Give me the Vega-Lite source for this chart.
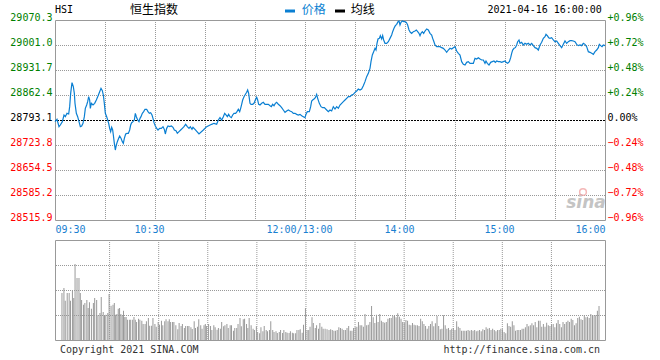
{
"$schema": "https://vega.github.io/schema/vega-lite/v6.json",
"background": "white",
"padding": {"left": 9, "top": 3, "right": 5, "bottom": 4},
"autosize": {"type": "pad"},
"bounds": "flush",
"spacing": 20,
"config": {"view": {"stroke": "#999999", "strokeWidth": 1}, "font": "DejaVu Sans Mono", "axis": {"labelFont": "DejaVu Sans Mono", "labelFontSize": 10, "grid": false}},
"datasets": {
"xgrid": [{"t":30},{"t":60},{"t":90},{"t":120},{"t":150},{"t":180},{"t":210},{"t":240},{"t":270},{"t":300}],
"pgrid": [{"v":28585.2},{"v":28654.5},{"v":28723.8},{"v":28862.4},{"v":28931.7},{"v":29001.0}],
"pzero": [{"v":28793.1}],
"vgrid": [{"h":25},{"h":50},{"h":75}],
"price": [
{"t":0,"v":28788.5},{"t":1.2,"v":28794.9},{"t":2.4,"v":28774.6},{"t":3.2,"v":28779.2},{"t":4.4,"v":28788.5},{"t":5.4,"v":28807.0},{"t":6.2,"v":28802.3},{"t":7.2,"v":28811.6},{"t":8.2,"v":28809.7},{"t":8.8,"v":28830.1},{"t":9.4,"v":28867.0},{"t":10.2,"v":28896.6},{"t":11.0,"v":28885.5},{"t":11.6,"v":28867.0},{"t":12.0,"v":28839.3},{"t":12.8,"v":28811.6},{"t":13.6,"v":28802.3},{"t":14.4,"v":28788.5},{"t":15.2,"v":28774.6},{"t":16.0,"v":28776.5},{"t":16.8,"v":28783.9},{"t":17.6,"v":28802.3},{"t":18.2,"v":28825.4},{"t":19.0,"v":28834.7},{"t":19.6,"v":28843.9},{"t":20.2,"v":28857.8},{"t":20.8,"v":28848.5},{"t":21.2,"v":28825.4},{"t":21.8,"v":28839.3},{"t":22.8,"v":28834.7},{"t":23.8,"v":28839.3},{"t":24.8,"v":28848.5},{"t":25.8,"v":28859.6},{"t":26.8,"v":28871.6},{"t":27.6,"v":28880.9},{"t":28.4,"v":28874.4},{"t":29.0,"v":28862.4},{"t":29.6,"v":28839.3},{"t":30.2,"v":28811.6},{"t":31.0,"v":28802.3},{"t":31.6,"v":28793.1},{"t":32.2,"v":28783.9},{"t":32.8,"v":28770.0},{"t":33.4,"v":28760.8},{"t":34.0,"v":28772.8},{"t":34.6,"v":28765.4},{"t":35.0,"v":28751.5},{"t":35.6,"v":28728.4},{"t":36.2,"v":28709.9},{"t":36.8,"v":28723.8},{"t":37.4,"v":28733.0},{"t":38.2,"v":28742.3},{"t":38.8,"v":28748.8},{"t":39.6,"v":28742.3},{"t":40.4,"v":28733.0},{"t":41.0,"v":28728.4},{"t":41.6,"v":28742.3},{"t":42.4,"v":28754.3},{"t":43.2,"v":28756.1},{"t":44.0,"v":28756.1},{"t":44.8,"v":28765.4},{"t":45.4,"v":28779.2},{"t":46.0,"v":28785.7},{"t":46.8,"v":28788.5},{"t":47.6,"v":28793.1},{"t":48.2,"v":28811.6},{"t":48.8,"v":28802.3},{"t":49.6,"v":28793.1},{"t":50.4,"v":28788.5},{"t":51.0,"v":28797.7},{"t":51.6,"v":28802.3},{"t":52.4,"v":28811.6},{"t":53.2,"v":28816.2},{"t":54.0,"v":28822.7},{"t":55.0,"v":28822.7},{"t":55.8,"v":28816.2},{"t":56.6,"v":28811.6},{"t":57.4,"v":28813.4},{"t":58.2,"v":28807.0},{"t":58.8,"v":28797.7},{"t":59.4,"v":28785.7},{"t":60.2,"v":28776.5},{"t":61.0,"v":28770.0},{"t":61.8,"v":28765.4},{"t":62.8,"v":28770.0},{"t":63.8,"v":28770.0},{"t":64.8,"v":28774.6},{"t":65.6,"v":28767.2},{"t":66.2,"v":28754.3},{"t":67.0,"v":28770.0},{"t":67.8,"v":28776.5},{"t":68.8,"v":28774.6},{"t":69.8,"v":28776.5},{"t":70.8,"v":28772.8},{"t":71.6,"v":28765.4},{"t":72.6,"v":28763.5},{"t":73.4,"v":28756.1},{"t":74.4,"v":28760.8},{"t":75.4,"v":28765.4},{"t":76.4,"v":28770.0},{"t":77.4,"v":28774.6},{"t":78.4,"v":28781.1},{"t":79.4,"v":28774.6},{"t":80.4,"v":28770.0},{"t":81.2,"v":28774.6},{"t":82.2,"v":28767.2},{"t":82.8,"v":28772.8},{"t":84.0,"v":28767.3},{"t":86.4,"v":28754.3},{"t":89.0,"v":28765.4},{"t":91.0,"v":28774.6},{"t":94.0,"v":28781.1},{"t":95.4,"v":28783.9},{"t":97.0,"v":28781.1},{"t":98.0,"v":28793.1},{"t":99.0,"v":28799.6},{"t":100.0,"v":28793.1},{"t":101.0,"v":28802.3},{"t":101.8,"v":28811.6},{"t":102.6,"v":28807.0},{"t":103.4,"v":28802.3},{"t":104.2,"v":28808.8},{"t":105.0,"v":28802.3},{"t":105.8,"v":28799.6},{"t":106.6,"v":28807.0},{"t":107.4,"v":28811.6},{"t":108.4,"v":28811.6},{"t":109.2,"v":28816.2},{"t":110.0,"v":28822.7},{"t":110.8,"v":28816.2},{"t":111.4,"v":28825.4},{"t":112.0,"v":28836.5},{"t":112.6,"v":28848.5},{"t":113.4,"v":28857.8},{"t":114.0,"v":28862.4},{"t":115.0,"v":28869.8},{"t":115.6,"v":28876.3},{"t":116.2,"v":28867.0},{"t":116.6,"v":28853.2},{"t":117.0,"v":28839.3},{"t":117.6,"v":28836.5},{"t":118.6,"v":28836.5},{"t":119.4,"v":28839.3},{"t":120.2,"v":28848.5},{"t":121.0,"v":28855.9},{"t":121.6,"v":28848.5},{"t":122.2,"v":28836.5},{"t":123.0,"v":28834.7},{"t":124.0,"v":28839.3},{"t":125.0,"v":28842.1},{"t":126.0,"v":28836.5},{"t":127.0,"v":28836.5},{"t":128.0,"v":28836.5},{"t":129.0,"v":28832.8},{"t":129.8,"v":28830.1},{"t":130.6,"v":28836.5},{"t":131.4,"v":28832.8},{"t":132.2,"v":28839.3},{"t":133.0,"v":28842.1},{"t":134.0,"v":28836.5},{"t":135.0,"v":28832.8},{"t":136.0,"v":28827.3},{"t":137.0,"v":28820.8},{"t":138.0,"v":28814.4},{"t":139.0,"v":28818.1},{"t":140.0,"v":28820.8},{"t":141.0,"v":28818.1},{"t":142.0,"v":28816.2},{"t":143.0,"v":28811.6},{"t":144.0,"v":28811.6},{"t":145.0,"v":28808.8},{"t":146.0,"v":28807.0},{"t":147.0,"v":28808.8},{"t":148.0,"v":28805.1},{"t":149.0,"v":28802.3},{"t":150.0,"v":28799.6},{"t":150.6,"v":28808.8},{"t":151.4,"v":28816.2},{"t":152.6,"v":28816.2},{"t":153.4,"v":28830.1},{"t":154.0,"v":28845.8},{"t":154.6,"v":28848.5},{"t":155.4,"v":28851.3},{"t":156.2,"v":28855.0},{"t":157.0,"v":28864.2},{"t":157.6,"v":28853.2},{"t":158.6,"v":28839.3},{"t":159.6,"v":28830.1},{"t":160.6,"v":28827.3},{"t":161.6,"v":28827.3},{"t":163,"v":28820.8},{"t":164,"v":28816.2},{"t":165,"v":28820.8},{"t":166,"v":28818.1},{"t":167,"v":28830.1},{"t":168,"v":28823.6},{"t":169,"v":28830.1},{"t":170,"v":28825.4},{"t":171,"v":28834.7},{"t":172,"v":28839.3},{"t":173,"v":28843.9},{"t":174,"v":28848.5},{"t":175,"v":28853.2},{"t":176,"v":28857.8},{"t":177,"v":28857.8},{"t":178,"v":28862.4},{"t":179,"v":28864.3},{"t":180,"v":28869.8},{"t":181,"v":28873.5},{"t":182,"v":28879.0},{"t":183,"v":28876.3},{"t":184,"v":28879.0},{"t":185,"v":28888.3},{"t":186,"v":28899.4},{"t":187,"v":28913.2},{"t":188,"v":28922.5},{"t":189,"v":28936.3},{"t":189.6,"v":28954.8},{"t":190.4,"v":28973.3},{"t":191.2,"v":28982.5},{"t":192,"v":28991.8},{"t":192.6,"v":28987.1},{"t":193.2,"v":29005.6},{"t":193.8,"v":29017.6},{"t":194.6,"v":29019.4},{"t":195.2,"v":29026.9},{"t":196,"v":29017.6},{"t":196.6,"v":29026.9},{"t":197.2,"v":29014.9},{"t":198,"v":29005.6},{"t":199,"v":29005.6},{"t":200,"v":29010.2},{"t":201,"v":29019.4},{"t":202,"v":29028.7},{"t":202.6,"v":29037.9},{"t":203.4,"v":29047.2},{"t":204.2,"v":29054.6},{"t":205,"v":29058.3},{"t":205.8,"v":29065.7},{"t":206.4,"v":29067.5},{"t":207,"v":29056.4},{"t":207.6,"v":29063.8},{"t":208.4,"v":29067.5},{"t":209.2,"v":29065.7},{"t":210,"v":29065.7},{"t":210.8,"v":29063.8},{"t":211.6,"v":29056.4},{"t":212.4,"v":29042.6},{"t":213.2,"v":29036.1},{"t":214,"v":29033.3},{"t":215,"v":29038.0},{"t":216,"v":29039.8},{"t":216.8,"v":29042.6},{"t":217.6,"v":29038.0},{"t":218.4,"v":29033.3},{"t":219,"v":29026.9},{"t":219.6,"v":29033.3},{"t":220.4,"v":29038.0},{"t":221.2,"v":29033.3},{"t":222,"v":29039.8},{"t":223,"v":29045.4},{"t":224,"v":29042.6},{"t":225,"v":29033.3},{"t":226,"v":29028.7},{"t":226.6,"v":29019.4},{"t":227.2,"v":29012.1},{"t":228,"v":29001.0},{"t":229,"v":28996.4},{"t":230,"v":28996.4},{"t":231,"v":28996.4},{"t":232,"v":28993.6},{"t":233,"v":28991.8},{"t":234,"v":28987.1},{"t":235,"v":28980.7},{"t":236,"v":28987.1},{"t":237,"v":28991.8},{"t":238,"v":28989.9},{"t":239,"v":28993.6},{"t":240,"v":28996.4},{"t":241,"v":28984.4},{"t":242,"v":28977.9},{"t":243,"v":28973.3},{"t":244,"v":28954.8},{"t":245,"v":28947.4},{"t":246,"v":28945.6},{"t":247,"v":28953.0},{"t":248,"v":28954.8},{"t":249,"v":28950.2},{"t":250,"v":28950.2},{"t":251,"v":28950.2},{"t":252,"v":28964.0},{"t":253,"v":28962.2},{"t":254,"v":28965.9},{"t":255,"v":28962.2},{"t":256,"v":28959.4},{"t":257,"v":28959.4},{"t":258,"v":28950.2},{"t":258.6,"v":28956.6},{"t":259.4,"v":28950.2},{"t":260.4,"v":28945.6},{"t":261.4,"v":28953.0},{"t":262.4,"v":28954.8},{"t":263.4,"v":28956.6},{"t":264.2,"v":28953.0},{"t":265,"v":28956.6},{"t":266,"v":28954.8},{"t":267,"v":28954.8},{"t":268,"v":28953.0},{"t":269,"v":28954.8},{"t":270,"v":28956.6},{"t":270.6,"v":28953.0},{"t":271.6,"v":28950.2},{"t":272.6,"v":28954.8},{"t":273.4,"v":28965.9},{"t":274,"v":28977.9},{"t":274.6,"v":28987.1},{"t":275.4,"v":28991.8},{"t":276.2,"v":28993.6},{"t":277,"v":29001.0},{"t":277.6,"v":29010.2},{"t":278.4,"v":29014.9},{"t":279,"v":29005.6},{"t":280,"v":29008.4},{"t":281,"v":29001.0},{"t":282,"v":29005.6},{"t":283,"v":29002.8},{"t":284,"v":29005.6},{"t":285,"v":29001.0},{"t":286,"v":29005.6},{"t":287,"v":28999.2},{"t":288,"v":28993.6},{"t":289,"v":28991.8},{"t":290,"v":28987.1},{"t":291,"v":29001.0},{"t":292,"v":29008.4},{"t":293,"v":29019.4},{"t":294,"v":29024.1},{"t":294.6,"v":29030.6},{"t":295.4,"v":29026.9},{"t":296.2,"v":29021.3},{"t":297,"v":29019.4},{"t":298,"v":29021.3},{"t":299,"v":29014.9},{"t":300,"v":29010.2},{"t":301,"v":29012.1},{"t":302,"v":29005.6},{"t":303,"v":28999.2},{"t":304,"v":28993.6},{"t":305,"v":29002.8},{"t":306,"v":29012.1},{"t":307,"v":29005.6},{"t":308,"v":29010.2},{"t":309,"v":29013.0},{"t":310,"v":29013.0},{"t":311,"v":29012.1},{"t":312,"v":29010.2},{"t":313,"v":29002.8},{"t":314,"v":28999.2},{"t":315,"v":29001.0},{"t":316,"v":28999.2},{"t":317,"v":29005.6},{"t":318,"v":29002.8},{"t":319,"v":28996.4},{"t":320,"v":28982.5},{"t":321,"v":28980.7},{"t":322,"v":28977.9},{"t":323,"v":28975.1},{"t":324,"v":28982.5},{"t":325,"v":28987.1},{"t":326,"v":28993.6},{"t":326.6,"v":29002.8},{"t":327.4,"v":28999.2},{"t":328.2,"v":28996.4},{"t":329,"v":29001.0},{"t":330,"v":28999.2}
],
"vol": [
{"t":1.2,"h":47},{"t":2.4,"h":52},{"t":3.2,"h":39.3},{"t":4.4,"h":47},{"t":5.6,"h":47},{"t":6.4,"h":39.3},{"t":7.6,"h":49.7},{"t":8.4,"h":42},{"t":9.2,"h":76},{"t":10.4,"h":62},{"t":11.6,"h":62},{"t":12.4,"h":47},{"t":13.2,"h":40},{"t":14.4,"h":35.3},{"t":15.2,"h":37},{"t":16.4,"h":40},{"t":17.2,"h":32},{"t":18.0,"h":37.7},{"t":19.2,"h":31.3},{"t":20.4,"h":37},{"t":21.2,"h":42},{"t":22.4,"h":40},{"t":23.2,"h":24.7},{"t":24.4,"h":27},{"t":25.2,"h":43},{"t":26.4,"h":28},{"t":27.2,"h":24.7},{"t":28.0,"h":25.3},{"t":29.2,"h":27},{"t":30.0,"h":46},{"t":31.2,"h":34.3},{"t":32.4,"h":35.3},{"t":33.2,"h":37},{"t":34.0,"h":25.3},{"t":34.8,"h":26},{"t":35.6,"h":31.3},{"t":36.4,"h":32},{"t":37.2,"h":26},{"t":38.0,"h":24.7},{"t":38.8,"h":29.3},{"t":39.6,"h":23},{"t":40.4,"h":23},{"t":41.2,"h":20.3},{"t":42.4,"h":20.3},{"t":43.2,"h":20.3},{"t":44.4,"h":20.3},{"t":45.2,"h":23},{"t":46.0,"h":20.3},{"t":46.8,"h":18},{"t":48.0,"h":21.3},{"t":48.8,"h":20.3},{"t":50.0,"h":19.3},{"t":50.8,"h":16},{"t":52.0,"h":16},{"t":52.8,"h":18.7},{"t":54.0,"h":22},{"t":54.8,"h":14.3},{"t":56.0,"h":14.3},{"t":56.8,"h":22},{"t":58.0,"h":16},{"t":58.8,"h":13.3},{"t":60.0,"h":18},{"t":60.8,"h":15.3},{"t":62.0,"h":19.3},{"t":62.8,"h":14.7},{"t":64.0,"h":18.7},{"t":64.8,"h":20.7},{"t":66.0,"h":18.7},{"t":66.8,"h":20.7},{"t":67.6,"h":18},{"t":68.8,"h":18},{"t":69.6,"h":18},{"t":70.8,"h":14.7},{"t":72.0,"h":10.7},{"t":72.8,"h":17},{"t":74.0,"h":14},{"t":74.8,"h":16},{"t":76.0,"h":12},{"t":76.8,"h":14},{"t":78.0,"h":14},{"t":78.8,"h":14},{"t":80.0,"h":12.7},{"t":80.8,"h":11},{"t":82.0,"h":18.7},{"t":82.8,"h":12},{"t":84.0,"h":13.3},{"t":84.8,"h":20.7},{"t":86.0,"h":14.7},{"t":86.8,"h":11.3},{"t":88.0,"h":14.7},{"t":88.8,"h":16},{"t":89.6,"h":14},{"t":90.8,"h":16},{"t":92.0,"h":14},{"t":92.8,"h":10},{"t":94.0,"h":14.7},{"t":94.8,"h":12.7},{"t":96.0,"h":10.3},{"t":96.8,"h":12},{"t":98.0,"h":11.3},{"t":98.8,"h":18},{"t":100.0,"h":13.7},{"t":100.8,"h":14.7},{"t":102.0,"h":16},{"t":102.8,"h":12},{"t":104.0,"h":14.7},{"t":104.8,"h":14.7},{"t":106.0,"h":9.3},{"t":106.8,"h":12},{"t":108.0,"h":12},{"t":108.8,"h":16},{"t":110.0,"h":22},{"t":110.8,"h":13.7},{"t":112.0,"h":20.7},{"t":112.8,"h":21.3},{"t":114.0,"h":16},{"t":114.8,"h":12},{"t":115.6,"h":22},{"t":116.8,"h":14.7},{"t":118.0,"h":11.3},{"t":118.8,"h":10},{"t":120.0,"h":13.7},{"t":120.8,"h":8},{"t":122.0,"h":6.7},{"t":122.8,"h":12.7},{"t":124.0,"h":8.7},{"t":124.8,"h":14},{"t":126.0,"h":10},{"t":126.8,"h":8.7},{"t":128.0,"h":10},{"t":128.8,"h":18.7},{"t":130.0,"h":10},{"t":130.8,"h":8},{"t":132.0,"h":8.7},{"t":132.8,"h":7},{"t":134.0,"h":8},{"t":134.8,"h":10},{"t":136.0,"h":7},{"t":136.8,"h":10},{"t":138.0,"h":8},{"t":138.8,"h":7.3},{"t":140.0,"h":7},{"t":140.8,"h":8.7},{"t":142.0,"h":7.3},{"t":142.8,"h":6.7},{"t":144.0,"h":6.7},{"t":144.8,"h":10},{"t":146.0,"h":10},{"t":146.8,"h":10.7},{"t":148.0,"h":7.3},{"t":148.8,"h":15.3},{"t":150.0,"h":32},{"t":151.0,"h":10},{"t":152.0,"h":10},{"t":152.8,"h":13.3},{"t":154.0,"h":22.7},{"t":154.8,"h":17},{"t":156.0,"h":12},{"t":156.8,"h":14.7},{"t":158.0,"h":11.3},{"t":158.8,"h":17},{"t":160.0,"h":13.3},{"t":160.8,"h":11.3},{"t":162.0,"h":11.3},{"t":163.2,"h":10.7},
{"t":164.4,"h":10},{"t":165.4,"h":10.7},{"t":166.4,"h":10},{"t":167.4,"h":9.3},{"t":168.4,"h":9.3},{"t":169.4,"h":10},{"t":170.4,"h":12.7},{"t":171.4,"h":12},{"t":172.4,"h":11.3},{"t":173.4,"h":10},{"t":174.4,"h":10},{"t":175.4,"h":12},{"t":176.4,"h":14},{"t":177.4,"h":9.3},{"t":178.4,"h":9.3},{"t":179.4,"h":12},{"t":180.4,"h":12.7},{"t":181.4,"h":13.3},{"t":182.4,"h":18},{"t":183.4,"h":14.7},{"t":184.4,"h":14.7},{"t":185.4,"h":13.3},{"t":186.4,"h":26},{"t":187.4,"h":14.7},{"t":188.4,"h":15.3},{"t":189.4,"h":18},{"t":190.4,"h":34},{"t":191.4,"h":22.7},{"t":192.4,"h":17},{"t":193.4,"h":25.3},{"t":194.4,"h":18},{"t":195.4,"h":26},{"t":196.4,"h":19.3},{"t":197.4,"h":18},{"t":198.4,"h":17.3},{"t":199.4,"h":18},{"t":200.4,"h":21.3},{"t":201.4,"h":22},{"t":202.4,"h":22},{"t":203.4,"h":24},{"t":204.4,"h":24.7},{"t":205.4,"h":22.7},{"t":206.4,"h":26.7},{"t":207.4,"h":23.3},{"t":208.4,"h":21.3},{"t":209.4,"h":18},{"t":210.4,"h":17.3},{"t":211.4,"h":20},{"t":212.4,"h":19.3},{"t":213.4,"h":15.3},{"t":214.4,"h":14.7},{"t":215.4,"h":17},{"t":216.4,"h":15.3},{"t":217.4,"h":14.7},{"t":218.4,"h":14.7},{"t":219.4,"h":14},{"t":220.4,"h":21.3},{"t":221.4,"h":18.7},{"t":222.4,"h":16},{"t":223.4,"h":14},{"t":224.4,"h":11.3},{"t":225.4,"h":14},{"t":226.4,"h":16},{"t":227.4,"h":18.7},{"t":228.4,"h":13.7},{"t":229.4,"h":16.7},{"t":230.4,"h":24},{"t":231.4,"h":14},{"t":232.4,"h":10.7},{"t":233.4,"h":11.3},{"t":234.4,"h":24.7},{"t":235.4,"h":14.7},{"t":236.4,"h":11.3},{"t":237.4,"h":12},{"t":238.4,"h":10},{"t":239.4,"h":11.3},{"t":240.4,"h":12},{"t":241.4,"h":10},{"t":242.4,"h":18.7},{"t":243.4,"h":13.3},{"t":244.4,"h":12},{"t":245.4,"h":9.3},{"t":246.4,"h":9.3},{"t":247.4,"h":9.3},{"t":248.4,"h":9.3},{"t":249.4,"h":10},{"t":250.4,"h":9.3},{"t":251.4,"h":10},{"t":252.4,"h":9.3},{"t":253.4,"h":10},{"t":254.4,"h":8.7},{"t":255.4,"h":9.3},{"t":256.4,"h":10},{"t":257.4,"h":8.7},{"t":258.4,"h":10.7},{"t":259.4,"h":10},{"t":260.4,"h":12.7},{"t":261.4,"h":11.3},{"t":262.4,"h":12},{"t":263.4,"h":10},{"t":264.4,"h":11.3},{"t":265.4,"h":10},{"t":266.4,"h":8.7},{"t":267.4,"h":10},{"t":268.4,"h":10},{"t":269.4,"h":11.3},{"t":270.4,"h":10.7},{"t":271.4,"h":8},{"t":272.4,"h":6.7},{"t":273.4,"h":16.7},{"t":274.4,"h":14},{"t":275.4,"h":13.3},{"t":276.4,"h":18.7},{"t":277.4,"h":14.7},{"t":278.4,"h":9.3},{"t":279.4,"h":10},{"t":280.4,"h":10},{"t":281.4,"h":10},{"t":282.4,"h":11.3},{"t":283.4,"h":11.3},{"t":284.4,"h":12.7},{"t":285.4,"h":16},{"t":286.4,"h":13.7},{"t":287.4,"h":14.7},{"t":288.4,"h":16.7},{"t":289.4,"h":14.7},{"t":290.4,"h":18},{"t":291.4,"h":12.7},{"t":292.4,"h":19.3},{"t":293.4,"h":19.3},{"t":294.4,"h":13.3},{"t":295.4,"h":16},{"t":296.4,"h":13.3},{"t":297.4,"h":17.3},{"t":298.4,"h":14.7},{"t":299.4,"h":14},{"t":300.4,"h":15.3},{"t":301.4,"h":16},{"t":302.4,"h":12.7},{"t":303.4,"h":16.7},{"t":304.4,"h":20},{"t":305.4,"h":16},{"t":306.4,"h":12.7},{"t":307.4,"h":18},{"t":308.4,"h":16},{"t":309.4,"h":18},{"t":310.4,"h":19.3},{"t":311.4,"h":18},{"t":312.4,"h":21.3},{"t":313.4,"h":20},{"t":314.4,"h":14.7},{"t":315.4,"h":16.7},{"t":316.4,"h":22},{"t":317.4,"h":23.3},{"t":318.4,"h":20.7},{"t":319.4,"h":20},{"t":320.4,"h":24.7},{"t":321.4,"h":22.7},{"t":322.4,"h":23.3},{"t":323.4,"h":22},{"t":324.4,"h":26},{"t":325.4,"h":24.7},{"t":326.4,"h":24.7},{"t":327.4,"h":24.7},{"t":328.4,"h":29.3},{"t":329.4,"h":34}
]
},
"vconcat": [
{
"width": 550, "height": 200,
"resolve": {"axis": {"y": "independent", "x": "independent"}},
"layer": [
{"data": {"name": "xgrid"},
 "mark": {"type": "rule", "color": "#999999", "strokeWidth": 1, "strokeDash": [1, 1], "xOffset": 0.5},
 "encoding": {"x": {"field": "t", "type": "quantitative", "scale": {"domain": [0, 330], "nice": false, "zero": false}, "axis": null}}},
{"data": {"name": "pgrid"},
 "mark": {"type": "rule", "color": "#999999", "strokeWidth": 1, "strokeDash": [1, 1], "yOffset": 0.5},
 "encoding": {"y": {"field": "v", "type": "quantitative", "scale": {"domain": [28515.9, 29070.3], "nice": false, "zero": false}, "axis": null}}},
{"data": {"name": "pzero"},
 "mark": {"type": "rule", "color": "#000000", "strokeWidth": 1, "strokeDash": [2, 1], "yOffset": 0.5},
 "encoding": {"y": {"field": "v", "type": "quantitative", "scale": {"domain": [28515.9, 29070.3], "nice": false, "zero": false}, "axis": null}}},
{"data": {"name": "price"},
 "mark": {"type": "line", "color": "#0a7fd2", "strokeWidth": 1.2},
 "encoding": {
  "x": {"field": "t", "type": "quantitative", "scale": {"domain": [0, 330], "nice": false, "zero": false},
   "axis": {"orient": "bottom", "values": [0,30,60,90,120,150,180,210,240,270,300,330], "labelExpr": "datum.value==0?'09:30':datum.value==330?'16:00':''", "labelFlush": true, "labelColor": "#1a80d0", "labelPadding": 4, "labelOverlap": false, "tickSize": 0, "domain": false, "title": null, "grid": false}},
  "y": {"field": "v", "type": "quantitative", "scale": {"domain": [28515.9, 29070.3], "nice": false, "zero": false},
   "axis": {"orient": "left", "values": [28515.9,28585.2,28654.5,28723.8,28793.1,28862.4,28931.7,29001.0,29070.3], "format": ".1f", "labelFlush": false, "labelOverlap": false, "labelBaseline": "middle", "labelOffset": -3, "labelPadding": 3, "labelColor": {"condition": [{"test": "datum.value > 28793.2", "value": "#008000"}, {"test": "datum.value < 28793", "value": "#ff0000"}], "value": "#000000"}, "tickSize": 0, "domain": false, "title": null, "grid": false}}
 }},
{"data": {"name": "price"},
 "mark": {"type": "line", "strokeOpacity": 0},
 "encoding": {
  "x": {"field": "t", "type": "quantitative", "scale": {"domain": [0, 330], "nice": false, "zero": false},
   "axis": {"orient": "bottom", "values": [60,150,210,270], "labelExpr": "datum.value==60?'10:30':datum.value==150?'12:00/13:00':datum.value==210?'14:00':'15:00'", "labelFlush": false, "labelOffset": -6, "labelColor": "#1a80d0", "labelPadding": 4, "labelOverlap": false, "tickSize": 0, "domain": false, "title": null, "grid": false}},
  "y": {"field": "v", "type": "quantitative", "scale": {"domain": [28515.9, 29070.3], "nice": false, "zero": false},
   "axis": {"orient": "right", "values": [28515.9,28585.2,28654.5,28723.8,28793.1,28862.4,28931.7,29001.0,29070.3], "labelExpr": "abs(datum.value-28793.1) < 0.01 ? '0.00%' : format((datum.value-28793.1)/28793.1*100, '+.2f') + '%'", "labelFlush": false, "labelOverlap": false, "labelAlign": "left", "labelBaseline": "middle", "labelOffset": -3, "labelPadding": 2, "labelColor": {"condition": [{"test": "datum.value > 28793.2", "value": "#008000"}, {"test": "datum.value < 28793", "value": "#ff0000"}], "value": "#000000"}, "tickSize": 0, "domain": false, "title": null, "grid": false}}
 }},
{"data": {"values": [{"label": "HSI"}]},
 "mark": {"type": "text", "align": "left", "baseline": "middle", "font": "DejaVu Sans Mono", "fontSize": 10, "color": "#000000"},
 "encoding": {"x": {"datum": 0, "type": "quantitative", "scale": {"domain": [0, 330], "nice": false, "zero": false}, "axis": null}, "y": {"datum": 29097.0, "type": "quantitative", "scale": {"domain": [28515.9, 29070.3], "nice": false, "zero": false}, "axis": null}, "text": {"field": "label"}}},
{"data": {"values": [{"label": "恒生指数"}]},
 "mark": {"type": "text", "align": "left", "baseline": "middle", "font": "Noto Sans CJK SC", "fontSize": 12, "color": "#000000"},
 "encoding": {"x": {"datum": 45, "type": "quantitative", "scale": {"domain": [0, 330], "nice": false, "zero": false}, "axis": null}, "y": {"datum": 29098.0, "type": "quantitative", "scale": {"domain": [28515.9, 29070.3], "nice": false, "zero": false}, "axis": null}, "text": {"field": "label"}}},
{"data": {"values": [{"series": "价格"}]},
 "mark": {"type": "rule", "color": "#0a7fd2", "strokeWidth": 3},
 "encoding": {"x": {"datum": 138, "type": "quantitative", "scale": {"domain": [0, 330], "nice": false, "zero": false}, "axis": null}, "x2": {"datum": 144}, "y": {"datum": 29095.2, "type": "quantitative", "scale": {"domain": [28515.9, 29070.3], "nice": false, "zero": false}, "axis": null}}},
{"data": {"values": [{"label": "价格"}]},
 "mark": {"type": "text", "align": "left", "baseline": "middle", "font": "Noto Sans CJK SC", "fontSize": 12, "color": "#0a7fd2"},
 "encoding": {"x": {"datum": 148, "type": "quantitative", "scale": {"domain": [0, 330], "nice": false, "zero": false}, "axis": null}, "y": {"datum": 29098.0, "type": "quantitative", "scale": {"domain": [28515.9, 29070.3], "nice": false, "zero": false}, "axis": null}, "text": {"field": "label"}}},
{"data": {"values": [{"series": "均线"}]},
 "mark": {"type": "rule", "color": "#000000", "strokeWidth": 3},
 "encoding": {"x": {"datum": 168, "type": "quantitative", "scale": {"domain": [0, 330], "nice": false, "zero": false}, "axis": null}, "x2": {"datum": 174}, "y": {"datum": 29095.2, "type": "quantitative", "scale": {"domain": [28515.9, 29070.3], "nice": false, "zero": false}, "axis": null}}},
{"data": {"values": [{"label": "均线"}]},
 "mark": {"type": "text", "align": "left", "baseline": "middle", "font": "Noto Sans CJK SC", "fontSize": 12, "color": "#000000"},
 "encoding": {"x": {"datum": 177.4, "type": "quantitative", "scale": {"domain": [0, 330], "nice": false, "zero": false}, "axis": null}, "y": {"datum": 29098.0, "type": "quantitative", "scale": {"domain": [28515.9, 29070.3], "nice": false, "zero": false}, "axis": null}, "text": {"field": "label"}}},
{"data": {"values": [{"label": "2021-04-16 16:00:00"}]},
 "mark": {"type": "text", "align": "left", "baseline": "middle", "font": "DejaVu Sans Mono", "fontSize": 10, "color": "#000000"},
 "encoding": {"x": {"datum": 259.5, "type": "quantitative", "scale": {"domain": [0, 330], "nice": false, "zero": false}, "axis": null}, "y": {"datum": 29098.0, "type": "quantitative", "scale": {"domain": [28515.9, 29070.3], "nice": false, "zero": false}, "axis": null}, "text": {"field": "label"}}},
{"data": {"values": [{"label": "sina"}]},
 "mark": {"type": "text", "align": "center", "baseline": "middle", "font": "DejaVu Sans", "fontSize": 17, "fontStyle": "italic", "fontWeight": "bold", "color": "#c4c4c4"},
 "encoding": {"x": {"datum": 318.6, "type": "quantitative", "scale": {"domain": [0, 330], "nice": false, "zero": false}, "axis": null}, "y": {"datum": 28563.0, "type": "quantitative", "scale": {"domain": [28515.9, 29070.3], "nice": false, "zero": false}, "axis": null}, "text": {"field": "label"}}},
{"data": {"values": [{"label": "logo"}]},
 "mark": {"type": "point", "shape": "circle", "size": 45, "filled": false, "color": "#f2a6a6", "strokeWidth": 1.5, "opacity": 0.8},
 "encoding": {"x": {"datum": 316.8, "type": "quantitative", "scale": {"domain": [0, 330], "nice": false, "zero": false}, "axis": null}, "y": {"datum": 28593.5, "type": "quantitative", "scale": {"domain": [28515.9, 29070.3], "nice": false, "zero": false}, "axis": null}}}
]
},
{
"width": 550, "height": 100,
"layer": [
{"data": {"name": "xgrid"},
 "mark": {"type": "rule", "color": "#999999", "strokeWidth": 1, "strokeDash": [1, 1], "xOffset": 0.5},
 "encoding": {"x": {"field": "t", "type": "quantitative", "scale": {"domain": [0, 330], "nice": false, "zero": false}, "axis": null}}},
{"data": {"name": "vgrid"},
 "mark": {"type": "rule", "color": "#999999", "strokeWidth": 1, "strokeDash": [1, 1], "yOffset": 0.5},
 "encoding": {"y": {"field": "h", "type": "quantitative", "scale": {"domain": [0, 100], "nice": false}, "axis": null}}},
{"data": {"name": "vol"},
 "mark": {"type": "bar", "color": "#999999", "size": 1},
 "encoding": {
  "x": {"field": "t", "type": "quantitative", "scale": {"domain": [0, 330], "nice": false, "zero": false}, "axis": null},
  "y": {"field": "h", "type": "quantitative", "scale": {"domain": [0, 100], "nice": false}, "axis": null}
 }},
{"data": {"values": [{"label": "Copyright 2021 SINA.COM"}]},
 "mark": {"type": "text", "align": "left", "baseline": "middle", "font": "DejaVu Sans Mono", "fontSize": 10, "color": "#333333"},
 "encoding": {"x": {"datum": 0, "type": "quantitative", "scale": {"domain": [0, 330], "nice": false, "zero": false}, "axis": null}, "y": {"datum": -9.5, "type": "quantitative", "scale": {"domain": [0, 100], "nice": false}, "axis": null}, "text": {"field": "label"}}},
{"data": {"values": [{"label": "http://finance.sina.com.cn"}]},
 "mark": {"type": "text", "align": "right", "baseline": "middle", "font": "DejaVu Sans Mono", "fontSize": 10, "color": "#333333"},
 "encoding": {"x": {"datum": 330, "type": "quantitative", "scale": {"domain": [0, 330], "nice": false, "zero": false}, "axis": null}, "y": {"datum": -9.5, "type": "quantitative", "scale": {"domain": [0, 100], "nice": false}, "axis": null}, "text": {"field": "label"}}}
]
}
]
}
